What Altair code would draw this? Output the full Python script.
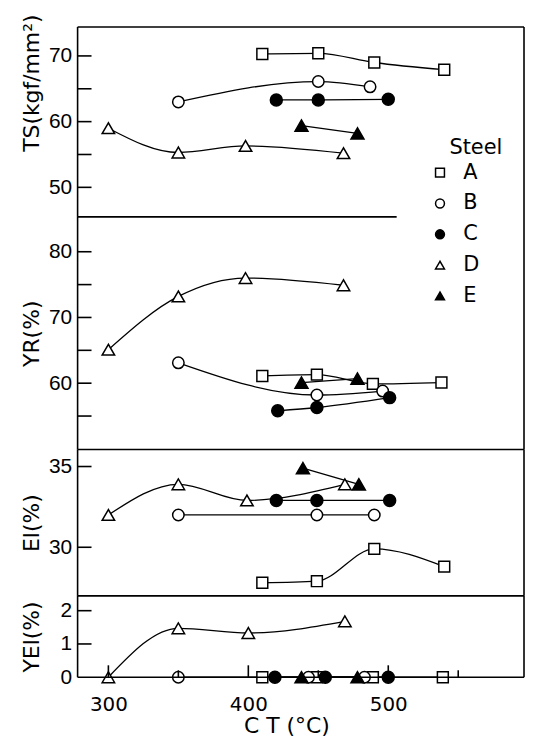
import altair as alt
import pandas as pd

FONT = "DejaVu Sans"
LFONT = "Liberation Sans"
STEELS = ["A", "B", "C", "D", "E"]
SHAPES = ["square", "circle", "circle", "triangle-up", "triangle-up"]
FILLS = ["white", "white", "black", "white", "black"]
STROKES = ["black"] * 5
SIZES = [120, 170, 140, 95, 95]

X_DOMAIN = [278, 597]
W = 449

# ---- Tensile strength TS (kgf/mm2)
ts_ct = {"A": [410, 450, 490, 540], "B": [350, 450, 487], "C": [420, 450, 500],
         "D": [300, 350, 398, 468], "E": [438, 478]}
ts_val = {"A": [70.3, 70.4, 69.0, 67.9], "B": [63.0, 66.1, 65.3], "C": [63.3, 63.3, 63.4],
          "D": [59.0, 55.3, 56.3, 55.2], "E": [59.4, 58.2]}

# ---- Yield ratio YR (%)
yr_ct = {"A": [410, 449, 489, 538], "B": [350, 449, 496], "C": [421, 449, 501],
         "D": [300, 350, 398, 468], "E": [438, 478]}
yr_val = {"A": [61.1, 61.3, 59.9, 60.1], "B": [63.1, 58.2, 58.8], "C": [55.8, 56.3, 57.8],
          "D": [65.1, 73.2, 76.0, 74.9], "E": [60.1, 60.7]}

# ---- Elongation El (%)
el_ct = {"A": [410, 449, 490, 540], "B": [350, 449, 490], "C": [420, 449, 501],
         "D": [300, 350, 399, 469], "E": [439, 479]}
el_val = {"A": [27.8, 27.9, 29.9, 28.8], "B": [32.0, 32.0, 32.0], "C": [32.9, 32.9, 32.9],
          "D": [32.0, 33.9, 32.9, 33.9], "E": [34.9, 33.9]}

# ---- Yield point elongation YEl (%)
yel_ct = {"A": [410, 449, 489, 539], "B": [350, 443, 483], "C": [419, 455, 500],
          "D": [300, 350, 400, 469], "E": [438, 478]}
yel_val = {"A": [0, 0, 0, 0], "B": [0, 0, 0], "C": [0, 0, 0],
           "D": [0, 1.47, 1.33, 1.68], "E": [0, 0]}

ts_ticks = [50, 55, 60, 65, 70]
yr_ticks = [55, 60, 65, 70, 75, 80]
el_ticks = [30, 35]
yel_ticks = [1, 2]
x_major = [300, 400, 500]
x_minor = [350, 450, 550]
SEP_END = 506


def frame(ct, val):
    rows = []
    for s in STEELS:
        for c, v in zip(ct[s], val[s]):
            rows.append({"steel": s, "mk": s, "ct": c, "value": v})
    return pd.DataFrame(rows)


def rule(df, **enc):
    return alt.Chart(df).mark_rule(color="black", strokeWidth=1.6).encode(**enc)


def panel(ct, val, domain, height, ticks, labels, title, sides, title_y=None,
          xaxis=False, sep=False, show_legend=False):
    df = frame(ct, val)
    yaxis_kw = dict(values=labels, ticks=False, tickSize=0, domain=False, grid=False,
                    labelFont=LFONT, labelFontSize=21, labelPadding=6, labelColor="black",
                    title=title, titleFont=FONT, titleFontSize=22, titleFontWeight="normal",
                    titleColor="black", titleX=-46, titleBaseline="middle", titleAngle=270)
    if title_y is not None:
        yaxis_kw["titleY"] = title_y
    y = alt.Y("value:Q", scale=alt.Scale(domain=domain, nice=False, zero=False),
              axis=alt.Axis(**yaxis_kw))
    if xaxis:
        xax = alt.Axis(values=x_major, ticks=False, tickSize=0, domain=False, grid=False,
                       labelFont=FONT, labelFontSize=20, labelPadding=17, labelColor="black",
                       title="C T (°C)", titleFont=FONT, titleFontSize=22,
                       titleFontWeight="normal", titleColor="black", titlePadding=2,
                       titleX=210)
    else:
        xax = None
    x = alt.X("ct:Q", scale=alt.Scale(domain=X_DOMAIN, nice=False, zero=False), axis=xax)

    if show_legend:
        legend = alt.Legend(
            orient="none", legendX=374, legendY=111, title="Steel", padding=0,
            symbolOffset=-20, symbolStrokeColor="black", symbolStrokeWidth=1.5)
    else:
        legend = None
    shape_enc = alt.Shape("steel:N", scale=alt.Scale(domain=STEELS, range=SHAPES), legend=legend)
    fill_enc = alt.Fill("steel:N", scale=alt.Scale(domain=STEELS, range=FILLS), legend=legend)
    stroke_enc = alt.Stroke("steel:N", scale=alt.Scale(domain=STEELS, range=STROKES),
                            legend=legend)
    size_enc = alt.Size("mk:N", scale=alt.Scale(range=SIZES), legend=None)

    lines = alt.Chart(df).mark_line(color="black", strokeWidth=1.3, interpolate="monotone").encode(
        x=x, y=y, detail="steel:N")
    pts = alt.Chart(df).mark_point(filled=True, strokeWidth=1.5, opacity=1).encode(
        x=x, y=y, shape=shape_enc, fill=fill_enc, stroke=stroke_enc, size=size_enc)

    layers = [lines, pts]
    tick_df = pd.DataFrame({"value": ticks})
    layers.append(rule(tick_df, y="value:Q", x=alt.value(0), x2=alt.value(14)))
    one = pd.DataFrame({"ct": [X_DOMAIN[0]]})
    if "left" in sides:
        layers.append(rule(one, x=alt.value(0), y=alt.value(0), y2=alt.value(height)))
    if "right" in sides:
        layers.append(rule(one, x=alt.value(W), y=alt.value(0), y2=alt.value(height)))
    if "top" in sides:
        layers.append(rule(one, y=alt.value(0), x=alt.value(0), x2=alt.value(W)))
    if "bottom" in sides:
        layers.append(rule(one, y=alt.value(height), x=alt.value(0), x2=alt.value(W)))
    if sep:
        sep_df = pd.DataFrame({"ct": [X_DOMAIN[0]], "ct2": [SEP_END]})
        layers.append(rule(sep_df, x="ct:Q", x2="ct2:Q", y=alt.value(height)))
    if xaxis:
        layers.append(rule(pd.DataFrame({"ct": x_major}), x="ct:Q",
                           y=alt.value(height), y2=alt.value(height - 12)))
        layers.append(rule(pd.DataFrame({"ct": x_minor}), x="ct:Q",
                           y=alt.value(height), y2=alt.value(height - 7)))
    return alt.layer(*layers).properties(width=W, height=height)


ts = panel(ts_ct, ts_val, [45.5, 74.4], 191, ts_ticks, [50, 60, 70], "TS(kgf/mm²)",
           ["left", "right", "top"], title_y=56, sep=True, show_legend=True)
yr = panel(yr_ct, yr_val, [49.9, 85.3], 234, yr_ticks, [60, 70, 80], "YR(%)",
           ["left", "right"])
el = panel(el_ct, el_val, [27.0, 36.05], 147, el_ticks, [30, 35], "El(%)",
           ["left", "right", "top", "bottom"])
yel = panel(yel_ct, yel_val, [0, 2.45], 82, yel_ticks, [0, 1, 2], "YEl(%)",
            ["left", "right", "top", "bottom"], xaxis=True)

chart = alt.vconcat(ts, yr, el, yel, spacing=0, bounds="flush").resolve_scale(
    shape="independent", fill="independent", stroke="independent", size="independent"
).resolve_legend(
    shape="independent", fill="independent", stroke="independent", size="independent"
).properties(
    padding={"left": 12, "top": 3, "right": 0, "bottom": 0},
    background="white"
).configure_view(stroke=None).configure_legend(
    titleFont=FONT, titleFontSize=21, titleFontWeight="normal", titleColor="black",
    labelFont=FONT, labelFontSize=21, labelColor="black", symbolSize=80,
    symbolStrokeColor="black", symbolStrokeWidth=1.5, rowPadding=9, titlePadding=4,
    labelOffset=13
)

chart.save("out.html", embed_options={"renderer": "svg", "actions": False})
